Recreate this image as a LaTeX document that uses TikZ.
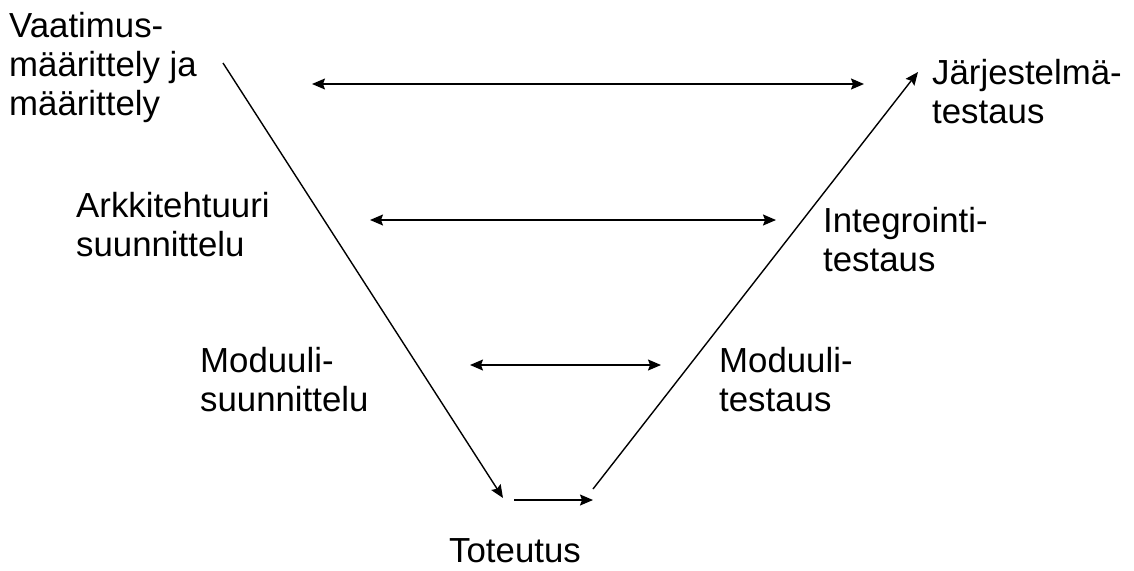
\documentclass[tikz,border=0pt]{standalone}
\usepackage{fontspec}
\setmainfont{Liberation Sans}
\usetikzlibrary{arrows.meta}
\begin{document}
\begin{tikzpicture}[x=1pt,y=-1pt,
  lbl/.style={anchor=north west,inner sep=0pt,align=left,font=\fontsize{34.8}{39}\selectfont},
  conn/.style={line width=1.4pt,-{Stealth[length=13pt,width=11pt,inset=2pt]}},
  both/.style={line width=1.4pt,{Stealth[length=13pt,width=11pt,inset=2pt]}-{Stealth[length=13pt,width=11pt,inset=2pt]}}]
\useasboundingbox (0,0) rectangle (1134,570);
% labels (north = baseline - 25)
\node[lbl] (req) at (9,12) {Vaatimus-\\määrittely ja\\määrittely};
\node[lbl] (sys) at (932,59) {Järjestelmä-\\testaus};
\node[lbl] (arch) at (76,192) {Arkkitehtuuri\\suunnittelu};
\node[lbl] (integ) at (823,207) {Integrointi-\\testaus};
\node[lbl] (modd) at (200,347) {Moduuli-\\suunnittelu};
\node[lbl] (modt) at (719,347) {Moduuli-\\testaus};
\node[lbl] (impl) at (449,538) {Toteutus};
% connector end points
\coordinate (l1) at (223,63);
\coordinate (l2) at (503,498);
\coordinate (r1) at (593,489);
\coordinate (r2) at (918,72);
\coordinate (b1) at (514,500);
\coordinate (b2) at (593,500);
\coordinate (t1) at (312,84);
\coordinate (t2) at (864,84);
\coordinate (m1) at (370,220);
\coordinate (m2) at (776,220);
\coordinate (n1) at (470,365);
\coordinate (n2) at (661,365);
\draw[conn] (l1) -- (l2);
\draw[conn] (r1) -- (r2);
\draw[conn] (b1) -- (b2);
\draw[both] (t1) -- (t2);
\draw[both] (m1) -- (m2);
\draw[both] (n1) -- (n2);
\end{tikzpicture}
\end{document}
